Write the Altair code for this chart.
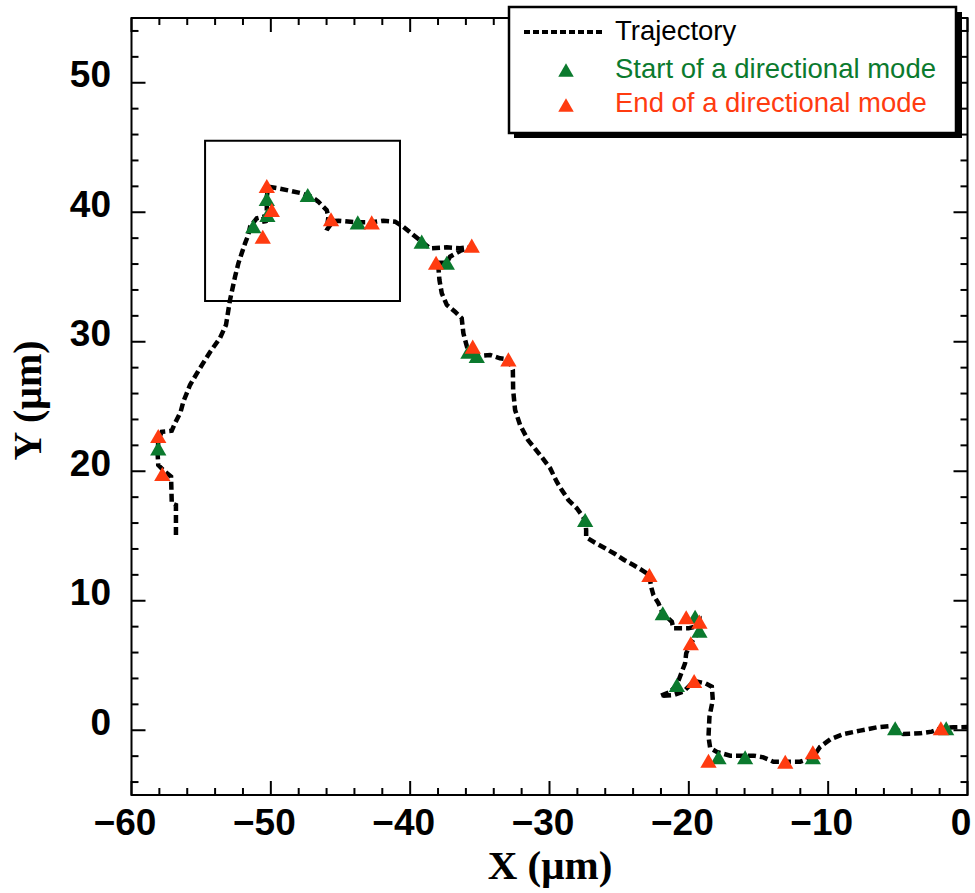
import altair as alt
import pandas as pd

# ---------------- data ----------------
traj_points = [
    [-56.81, 15.08], [-56.81, 17.39], [-57.11, 17.52], [-57.16, 19.58], [-57.60, 19.97],
    [-58.08, 20.48], [-58.12, 21.25], [-58.08, 22.41], [-57.83, 23.05], [-57.11, 23.13],
    [-56.88, 23.70], [-56.47, 24.60], [-56.28, 25.37], [-55.80, 26.66], [-55.08, 27.97],
    [-54.36, 29.21], [-53.65, 30.29], [-53.22, 31.29], [-52.93, 33.22], [-52.57, 35.02],
    [-52.33, 36.06], [-52.09, 36.83], [-51.85, 37.60], [-51.62, 38.24], [-51.49, 38.88],
    [-51.01, 39.53], [-50.54, 39.66], [-50.42, 39.02], [-50.29, 39.56], [-50.29, 41.20],
    [-50.18, 41.97], [-49.46, 41.85], [-48.62, 41.66], [-47.78, 41.46], [-47.04, 41.18],
    [-46.59, 40.81], [-45.99, 40.17], [-45.87, 39.66], [-45.99, 38.63], [-45.53, 39.32],
    [-45.15, 39.35], [-43.76, 39.22], [-42.76, 39.22], [-41.92, 39.35], [-41.08, 39.27],
    [-40.49, 38.88], [-39.77, 38.24], [-39.17, 37.73], [-38.57, 37.22], [-37.37, 37.29],
    [-36.42, 37.22], [-35.58, 37.34], [-36.42, 37.01], [-37.14, 36.57], [-37.37, 36.10],
    [-38.14, 36.10], [-37.98, 35.80], [-37.90, 34.77], [-37.73, 33.74], [-37.37, 32.84],
    [-36.78, 32.32], [-36.30, 31.81], [-36.18, 30.65], [-35.99, 29.88], [-35.82, 29.23],
    [-35.51, 29.62], [-35.22, 28.90], [-34.26, 28.98], [-33.55, 28.72], [-32.95, 28.64],
    [-32.63, 27.82], [-32.61, 26.27], [-32.47, 24.73], [-32.11, 23.57], [-31.54, 22.41],
    [-30.67, 21.25], [-29.96, 20.25], [-29.48, 19.19], [-29.12, 18.55], [-28.64, 17.78],
    [-28.04, 17.14], [-27.44, 16.24], [-27.37, 15.46], [-27.37, 14.90], [-26.73, 14.48],
    [-26.01, 14.05], [-25.29, 13.61], [-24.64, 13.15], [-23.98, 12.76], [-23.37, 12.37],
    [-22.83, 11.99], [-22.71, 11.09], [-22.54, 10.44], [-22.18, 9.80], [-21.87, 9.03],
    [-21.22, 8.38], [-21.11, 7.87], [-20.03, 7.87], [-19.55, 8.00], [-19.24, 8.39],
    [-19.24, 7.69], [-19.86, 6.72], [-20.19, 5.94], [-20.27, 5.17], [-20.50, 4.52],
    [-20.86, 3.49], [-21.34, 2.95], [-22.06, 2.64], [-21.11, 2.72], [-20.39, 2.98],
    [-20.03, 3.36], [-19.62, 3.80], [-18.83, 3.63], [-18.35, 3.36], [-18.28, 2.34],
    [-18.52, 1.05], [-18.59, -0.50], [-18.47, -1.37], [-17.99, -1.68], [-17.03, -1.96],
    [-15.36, -1.96], [-14.65, -2.09], [-13.93, -2.43], [-12.01, -2.43], [-11.10, -2.09],
    [-10.57, -1.27], [-9.85, -0.70], [-8.90, -0.29], [-7.70, -0.03], [-6.50, 0.23],
    [-5.55, 0.33], [-5.19, 0.15], [-4.60, -0.29], [-3.40, -0.24], [-2.56, -0.11],
    [-1.91, 0.15], [-1.00, 0.23], [0.00, 0.25],
]

start_x = [-58.08, -51.26, -50.25, -50.29, -47.35, -43.76, -39.17, -37.37, -35.82, -35.22,
           -27.44, -21.87, -19.55, -19.24, -20.86, -17.87, -15.96, -11.10, -5.19, -1.53]
start_y = [21.77, 38.92, 39.79, 41.02, 41.33, 39.22, 37.73, 36.10, 29.23, 28.90,
           16.24, 9.03, 8.77, 7.69, 3.49, -2.09, -2.09, -2.09, 0.15, 0.15]

end_x = [-58.08, -57.79, -50.58, -49.93, -50.29, -45.68, -42.76, -35.58, -38.14, -35.51,
         -32.95, -22.83, -20.19, -19.24, -19.86, -19.62, -18.59, -13.08, -11.10, -1.91]
end_y = [22.72, 19.79, 38.11, 40.17, 42.03, 39.46, 39.22, 37.42, 36.10, 29.62,
         28.64, 11.99, 8.72, 8.39, 6.72, 3.80, -2.35, -2.43, -1.70, 0.15]

inset_x = [-54.72, -40.73]
inset_y = [33.15, 45.53]

x_major = list(range(-60, 1, 10))
x_minor = [v for v in range(-60, 1, 2) if v % 10 != 0]
y_major = list(range(0, 51, 10))
y_minor = [v for v in range(-4, 55, 2) if v % 10 != 0]

legend_labels = ["Trajectory", "Start of a directional mode", "End of a directional mode"]

GREEN = "#0B7A2E"
RED = "#FF3B10"
legend_colors = ["black", GREEN, RED]

# ---------------- frames ----------------
traj = pd.DataFrame({"x": [p[0] for p in traj_points],
                     "y": [p[1] for p in traj_points],
                     "i": list(range(len(traj_points)))})
starts = pd.DataFrame({"x": start_x, "y": start_y})
ends = pd.DataFrame({"x": end_x, "y": end_y})
inset = pd.DataFrame({"x": [inset_x[0]], "x2": [inset_x[1]],
                      "y": [inset_y[0]], "y2": [inset_y[1]]})
one = pd.DataFrame({"k": [0]})

W, H = 836, 777
XD = [-60, 0]
YD = [-5, 55]
XS = alt.Scale(domain=XD, nice=False, zero=False)
YS = alt.Scale(domain=YD, nice=False, zero=False)

LABEL_FONT = "Liberation Sans"
TITLE_FONT = "Liberation Serif"

x_label_axis = alt.Axis(orient="bottom", values=x_major, format="d", ticks=False, tickSize=0,
                        domain=False, grid=False, labelFont=LABEL_FONT, labelFontWeight="bold",
                        labelFontSize=37, labelColor="black", labelPadding=10, labelOffset=-7,
                        labelFlush=False, labelOverlap=False, title="X (μm)",
                        titleFont=TITLE_FONT, titleFontWeight="bold", titleFontSize=41,
                        titleColor="black", titleY=83, titleBaseline="alphabetic",
                        titleAlign="center", titleX=W / 2)
y_label_axis = alt.Axis(orient="left", values=y_major, format="d", ticks=False, tickSize=0,
                        domain=False, grid=False, labelFont=LABEL_FONT, labelFontWeight="bold",
                        labelFontSize=37, labelColor="black", labelPadding=21, labelOffset=-7,
                        labelFlush=False, labelOverlap=False, title="Y (μm)",
                        titleFont=TITLE_FONT, titleFontWeight="bold", titleFontSize=40,
                        titleColor="black", titleAngle=-90, titleX=-91.5, titleY=382,
                        titleBaseline="alphabetic", titleAlign="center")

# ---------------- inward tick marks (all four sides), lengths in pixels ----------------
PX_X = (XD[1] - XD[0]) / W   # data units per pixel, horizontally
PX_Y = (YD[1] - YD[0]) / H   # data units per pixel, vertically


def xticks(vals, edge, length_px, direction):
    df = pd.DataFrame({"v": vals})
    df["a"] = edge
    df["b"] = edge + direction * length_px * PX_Y
    return alt.Chart(df).mark_rule(color="black", strokeWidth=2).encode(
        x=alt.X("v:Q", scale=XS, axis=None),
        y=alt.Y("a:Q", scale=YS, axis=None), y2="b:Q")


def yticks(vals, edge, length_px, direction):
    df = pd.DataFrame({"v": vals})
    df["a"] = edge
    df["b"] = edge + direction * length_px * PX_X
    return alt.Chart(df).mark_rule(color="black", strokeWidth=2).encode(
        y=alt.Y("v:Q", scale=YS, axis=None),
        x=alt.X("a:Q", scale=XS, axis=None), x2="b:Q")


tick_layers = [
    xticks(x_major, YD[0], 14, 1), xticks(x_minor, YD[0], 7, 1),
    xticks(x_major, YD[1], 14, -1), xticks(x_minor, YD[1], 7, -1),
    yticks(y_major, XD[0], 14, 1), yticks(y_minor, XD[0], 7, 1),
    yticks(y_major, XD[1], 14, -1), yticks(y_minor, XD[1], 7, -1),
]

line = alt.Chart(traj).mark_line(color="black", strokeWidth=4.5, strokeDash=[8, 4]).encode(
    x=alt.X("x:Q", scale=XS, axis=x_label_axis),
    y=alt.Y("y:Q", scale=YS, axis=y_label_axis),
    order=alt.Order("i:Q"),
)

green = alt.Chart(starts).mark_point(shape="triangle-up", filled=True, size=265, opacity=1,
                                     color=GREEN).encode(
    x=alt.X("x:Q", scale=XS, axis=None),
    y=alt.Y("y:Q", scale=YS, axis=None),
)

red = alt.Chart(ends).mark_point(shape="triangle-up", filled=True, size=265, opacity=1,
                                 color=RED).encode(
    x=alt.X("x:Q", scale=XS, axis=None),
    y=alt.Y("y:Q", scale=YS, axis=None),
)

inset_rect = alt.Chart(inset).mark_rect(fillOpacity=0, stroke="black", strokeWidth=2).encode(
    x=alt.X("x:Q", scale=XS, axis=None), x2="x2:Q",
    y=alt.Y("y:Q", scale=YS, axis=None), y2="y2:Q",
)

# ---------------- legend ----------------
shadow = alt.Chart(one).mark_rect(color="black").encode(
    x=alt.value(382.5), x2=alt.value(830.5), y=alt.value(-6), y2=alt.value(120))
box = alt.Chart(one).mark_rect(fill="white", stroke="black", strokeWidth=2.5).encode(
    x=alt.value(377.5), x2=alt.value(824.5), y=alt.value(-11), y2=alt.value(115))
leg_line = alt.Chart(one).mark_rule(color="black", strokeWidth=4, strokeDash=[6, 3]).encode(
    x=alt.value(392.5), x2=alt.value(473.5), y=alt.value(14))
leg_g = alt.Chart(one).mark_point(shape="triangle-up", filled=True, size=240, opacity=1,
                                  color=GREEN).encode(x=alt.value(434.5), y=alt.value(52))
leg_r = alt.Chart(one).mark_point(shape="triangle-up", filled=True, size=240, opacity=1,
                                  color=RED).encode(x=alt.value(434.5), y=alt.value(87))
leg_texts = []
for lab, col, yy in zip(legend_labels, legend_colors, [14, 52, 86]):
    leg_texts.append(
        alt.Chart(pd.DataFrame({"label": [lab]})).mark_text(
            align="left", baseline="middle", font=LABEL_FONT, fontSize=27.5, color=col
        ).encode(x=alt.value(483.5), y=alt.value(yy), text="label:N")
    )

chart = alt.layer(
    *tick_layers, inset_rect, line, green, red,
    shadow, box, leg_line, leg_g, leg_r, *leg_texts,
).resolve_scale(x="independent", y="independent").resolve_axis(
    x="independent", y="independent"
).properties(
    width=W, height=H,
    padding={"left": 131.5, "top": 18, "right": 7.5, "bottom": 98},
    autosize=alt.AutoSizeParams(type="none"),
    background="white",
).configure_view(stroke="black", strokeWidth=2)

chart.save("out.html", embed_options={"renderer": "svg", "actions": False})
